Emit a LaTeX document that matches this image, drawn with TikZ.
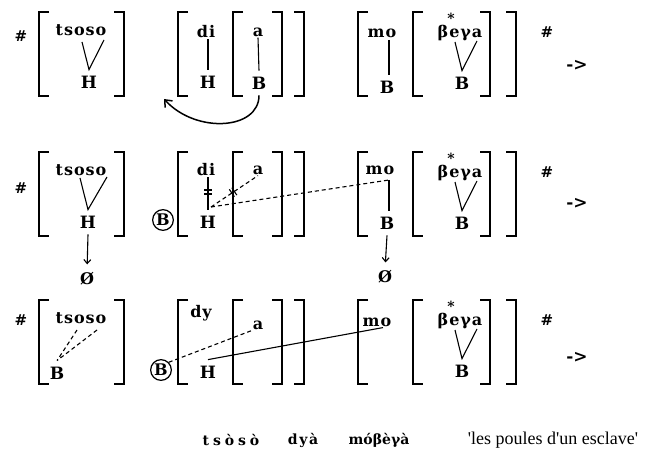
\documentclass[tikz,border=0pt]{standalone}
\usepackage{fontspec}
\setmainfont{DejaVu Serif}
\newfontfamily\spacedfont[LetterSpace=6]{DejaVu Serif}
\newfontfamily\widefont[LetterSpace=28]{DejaVu Serif}
\newfontfamily\midfont[LetterSpace=12]{DejaVu Serif}
\newfontfamily\glossfont[Ligatures=TeXOff]{Liberation Serif}
\usetikzlibrary{arrows.meta}

\def\brkhook{10}
\def\brktop{12}
\def\brkbot{96}
\newcommand{\segsize}{\fontsize{16}{18}\selectfont\bfseries}
\newcommand{\tonesize}{\fontsize{17}{19}\selectfont\bfseries}
\newcommand{\hashsize}{\fontsize{15}{17}\selectfont\bfseries}
\newcommand{\lowsize}{\fontsize{14}{16}\selectfont\bfseries}
\newcommand{\brkL}[2]{\draw[brk] ({#1+\brkhook},{#2+\brktop}) -- (#1,{#2+\brktop}) -- (#1,{#2+\brkbot}) -- ({#1+\brkhook},{#2+\brkbot});}
\newcommand{\brkR}[2]{\draw[brk] ({#1-\brkhook},{#2+\brktop}) -- (#1,{#2+\brktop}) -- (#1,{#2+\brkbot}) -- ({#1-\brkhook},{#2+\brkbot});}

\begin{document}
\begin{tikzpicture}[x=1pt,y=-1pt,line join=miter,
  seg/.style={font=\spacedfont\segsize,inner sep=1pt},
  tone/.style={font=\tonesize,inner xsep=1pt,inner ysep=6pt},
  tonecirc/.style={circle,draw,line width=1.2pt,inner sep=1pt,font=\segsize},
  brk/.style={line width=2.6pt},
  assoc/.style={line width=1.1pt},
  floatlink/.style={line width=1.1pt,dash pattern=on 4pt off 3pt},
  tip/.style={-{Straight Barb[length=4pt,width=7pt]}}]
  \useasboundingbox (0,0) rectangle (647,454);
  \foreach \ry/\hy/\ay [count=\r] in {0/36/65,140/188/203,288/320/357} {
    \brkL{39}{\ry} \brkR{124}{\ry}
    \brkL{178}{\ry} \brkL{233}{\ry} \brkR{282}{\ry} \brkR{304}{\ry}
    \brkL{358}{\ry} \brkL{413}{\ry} \brkR{490}{\ry} \brkR{516}{\ry}
    \node[font=\hashsize] (hashL\r) at (21,\hy) {\#};
    \node[seg] (tsoso\r) at (81,{\ry+30}) {tsoso};
    \node[seg] (beya\r) at (460,{\ry+33}) {βeγa};
    \node[font=\fontsize{14}{14}\selectfont\bfseries,inner sep=0pt] (star\r) at (451,{\ry+18}) {*};
    \node[tone] (Bbeya\r) at (462,{\ry+83}) {B};
    \coordinate (vE\r) at (455,{\ry+42});
    \coordinate (vA\r) at (477,{\ry+41});
    \draw[assoc] (vE\r) -- (Bbeya\r.north) -- (vA\r);
    \node[font=\hashsize] (hashR\r) at (547,{\ry+32}) {\#};
    \node[font=\fontsize{17}{17}\selectfont\bfseries] (arr\r) at (577,\ay) {->};
  }

  \node[tone] (Hts1) at (89,82) {H};
  \coordinate (vO1) at (82,42);
  \coordinate (vOb1) at (104,40);
  \draw[assoc] (vO1) -- (Hts1.north) -- (vOb1);
  \node[seg] (di1) at (206,32) {di};
  \node[tone] (Hdi1) at (208,82) {H};
  \draw[assoc] (Hdi1.north) -- (Hdi1.north |- di1.south);
  \node[seg] (a1) at (258,32) {a};
  \node[tone] (Ba1) at (259,83) {B};
  \draw[assoc] (a1.south) -- (Ba1.north);
  \node[seg] (mo1) at (382,33) {mo};
  \node[tone] (Bmo1) at (387,87) {B};
  \coordinate (moL1) at (389,40);
  \draw[assoc] (moL1) -- (moL1 |- Bmo1.north);
  \coordinate (bendEnd) at (164,99);
  \draw[line width=1.5pt,-{Straight Barb[length=6pt,width=10pt]}] (Ba1.south) .. controls (259,130) and (196,134) .. (bendEnd);

  \node[tone] (Hts2) at (88,222) {H};
  \coordinate (vO2) at (80,178);
  \coordinate (vOb2) at (107,177);
  \draw[assoc] (vO2) -- (Hts2.north) -- (vOb2);
  \node[seg] (null2a) at (87,279) {Ø};
  \draw[assoc,tip,shorten >=7pt] (Hts2.south) -- (null2a.north);
  \node[tonecirc] (cB2) at (163,220) {B};
  \node[seg] (di2) at (206,170) {di};
  \node[tone] (Hdi2) at (208,222) {H};
  \draw[assoc] (Hdi2.north) -- (Hdi2.north |- di2.south);
  \draw[assoc] (204,190) -- (212,190) (204,194) -- (212,194);
  \node[seg] (a2) at (258,170) {a};
  \coordinate (hd2) at (211,207);
  \draw[floatlink] (hd2) -- (a2.south) coordinate[pos=0.47] (cut2);
  \draw[assoc] (cut2) +(-3.75,-2.9) -- +(1.25,4.5) (cut2) +(-1.25,-4.5) -- +(3.75,2.9);
  \node[seg] (mo2) at (380,170) {mo};
  \node[tone] (Bmo2) at (387,223) {B};
  \coordinate (moL2) at (389,180);
  \draw[assoc] (moL2) -- (moL2 |- Bmo2.north);
  \draw[floatlink] (hd2) -- (moL2);
  \node[seg] (null2b) at (385,277) {Ø};
  \draw[assoc,tip,shorten >=7pt] (Bmo2.south) -- (null2b.north);

  \node[tone] (Bts3) at (57,373) {B};
  \coordinate (vO3) at (77,330);
  \coordinate (vOb3) at (97,330);
  \draw[floatlink] (vO3) -- (Bts3.north) (vOb3) -- (Bts3.north);
  \node[tonecirc] (cB3) at (161,370) {B};
  \node[seg] (dy3) at (201,313) {dy};
  \node[seg] (a3) at (258,325) {a};
  \node[tone] (H3) at (208,372) {H};
  \node[seg] (mo3) at (377,322) {mo};
  \draw[floatlink] (cB3.north east) -- (a3.south west);
  \draw[assoc] (H3.north) -- ([xshift=6pt]mo3.south);

  \node[font=\widefont\lowsize] (glsA) at (231,440) {tsòsò};
  \node[font=\midfont\lowsize] (glsB) at (303,440) {dyà};
  \node[font=\lowsize] (glsC) at (379,440) {móβèγà};
  \node[font=\glossfont\fontsize{18}{18}\selectfont] (glsD) at (553,440) {'les poules d'un esclave'};
\end{tikzpicture}
\end{document}
